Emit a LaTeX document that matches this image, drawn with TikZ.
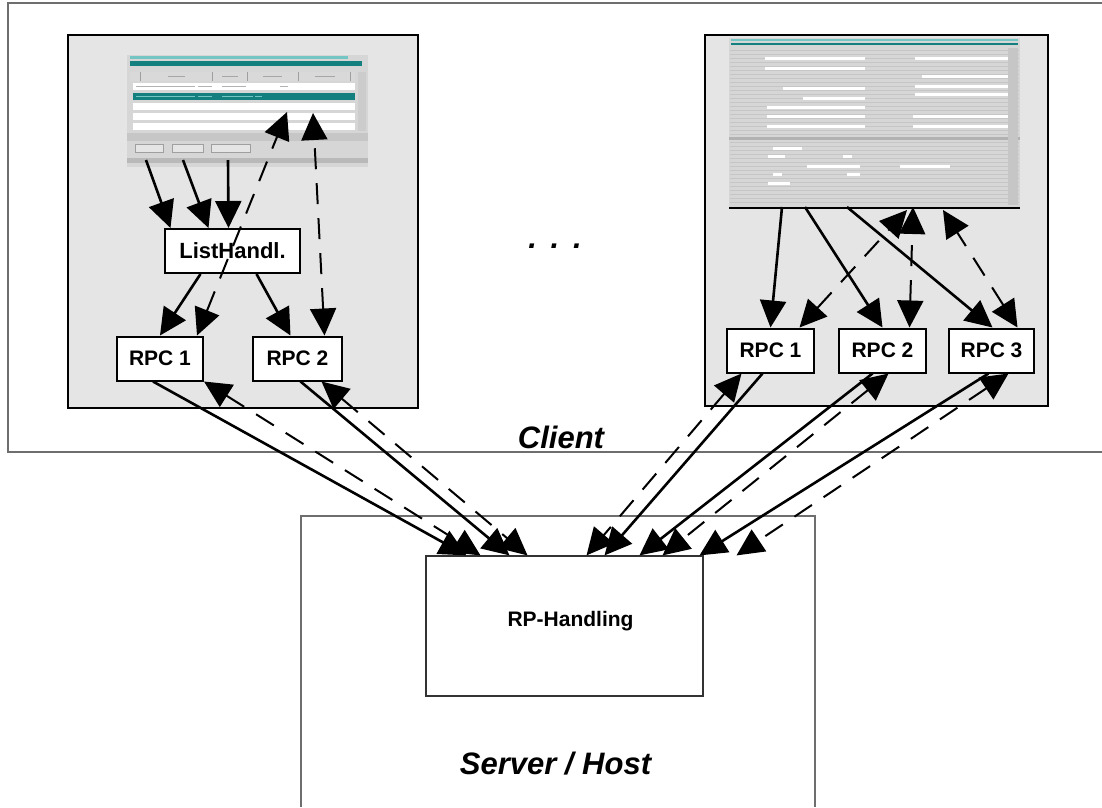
\documentclass[tikz,border=0pt]{standalone}
\usepackage{fontspec}
\setsansfont{Liberation Sans}
\usetikzlibrary{positioning,arrows.meta}

\definecolor{panelgray}{HTML}{E5E5E5}
\definecolor{shotgray}{HTML}{D6D6D6}
\definecolor{tealdark}{HTML}{13807F}
\definecolor{teallight}{HTML}{74C6C4}
\definecolor{framegray}{HTML}{6E6E6E}

\begin{document}
\begin{tikzpicture}[x=1pt,y=-1pt,
    cell/.style = {align=center, text centered, font=\sffamily\bfseries\fontsize{21}{24}\selectfont,
        rectangle, draw=black, line width=2pt, fill=white, inner sep=0pt, minimum height=44pt},
    panel/.style = {draw=black, line width=2.2pt, fill=panelgray},
    frame/.style = {draw=framegray, line width=1.2pt},
    call/.style = {line width=2.6pt, -{Triangle[length=27pt,width=26pt]}},
    back/.style = {line width=2pt, dash pattern=on 21pt off 14pt,
        {Triangle[length=27pt,width=26pt]}-{Triangle[length=27pt,width=26pt]}},
    title/.style = {font=\sffamily\bfseries\itshape\fontsize{31}{34}\selectfont, inner sep=0pt}]
  \useasboundingbox (0,0) rectangle (1102,807);

  % client and server frames
  \draw[frame] (1102,3) -- (8,3) -- (8,452) -- (1102,452);
  \draw[frame] (301,807) -- (301,516) -- (815,516) -- (815,807);
  \draw[panel] (68,35) rectangle (418,408);
  \draw[panel] (705,35) rectangle (1048,406);

  % list window
  \fill[shotgray] (127,55) rectangle (368,167);
  \fill[teallight] (130,56) rectangle (348,59);
  \fill[tealdark] (130,61) rectangle (362,66);
  \fill[gray!30] (130,72) rectangle (355,81);
  \foreach \x in {140,212,247,298,350} \draw[gray!75] (\x,72) -- (\x,81);
  \foreach \y in {83,103,113,123} \fill[white] (133,\y) rectangle (355,\y+7);
  \fill[tealdark] (133,93) rectangle (355,100);
  \foreach \a/\b in {168/185,222/238,263/282,315/335} \draw[gray!70, line width=1pt] (\a,76.5) -- (\b,76.5);
  \foreach \a/\b in {136/195,198/212,222/246,280/288} \draw[gray!60, line width=1pt] (\a,86.5) -- (\b,86.5);
  \foreach \a/\b in {136/195,198/212,222/253,255/262} \draw[teallight, line width=1pt] (\a,96.5) -- (\b,96.5);
  \fill[gray!40] (358,72) rectangle (366,131);
  \fill[gray!45] (127,133) rectangle (368,141);
  \foreach \a/\b in {135/163,172/203,211/250} \draw[gray!75, fill=gray!20] (\a,144) rectangle (\b,152);
  \fill[gray!55] (127,158) rectangle (368,163);

  % form window
  \fill[shotgray] (729,38) rectangle (1020,208);
  \fill[teallight] (731,39) rectangle (1018,41);
  \fill[tealdark] (731,43) rectangle (1018,45);
  \foreach \y in {50,54,...,202} \draw[gray!45, line width=0.6pt] (730,\y) -- (1019,\y);
  \foreach \a/\b/\y in {765/865/57, 765/865/67, 915/1012/57, 922/1012/75, 783/865/87,
      803/865/97, 767/865/106, 767/865/115, 767/865/125, 913/1010/115, 913/1010/125,
      915/1012/85, 915/1012/93, 773/802/147, 768/785/155, 843/852/155, 807/860/165,
      900/950/165, 773/782/173, 847/860/173, 768/790/182}
    \fill[white] (\a,\y) rectangle (\b,\y+3);
  \fill[gray!60] (729,137) rectangle (1020,140);
  \fill[gray!45] (1008,48) rectangle (1018,205);
  \draw[black, line width=1.5pt] (729,208) -- (1020,208);

  % handlers and calls
  \node[cell, minimum width=135pt, font=\sffamily\bfseries\fontsize{22}{24}\selectfont] (listh) at (232.5,251) {ListHandl.};
  \node[cell, minimum width=86pt] (lrpc1) at (160,358.5) {RPC 1};
  \node[cell, minimum width=89pt, right = 48pt of lrpc1] (lrpc2) {RPC 2};
  \node[cell, minimum width=87pt] (rrpc1) at (770.5,350.5) {RPC 1};
  \node[cell, minimum width=87pt, right = 23pt of rrpc1] (rrpc2) {RPC 2};
  \node[cell, minimum width=85pt, right = 21pt of rrpc2] (rrpc3) {RPC 3};
  \node[draw=black!80, line width=1.2pt, minimum width=277pt, minimum height=140pt] (rph) at (564.5,626) {};
  \node[font=\sffamily\bfseries\fontsize{21}{24}\selectfont, inner sep=0pt] (rphtext)
        at ([xshift=6pt,yshift=5pt]rph.center) {RP-Handling};

  \node[title, anchor=base] (dots) at (555,248) {.\ \,.\ \,.};
  \node[title, anchor=base] (client) at (561,448) {Client};
  \node[title, anchor=base] (server) at (555.5,774) {Server / Host};

  \coordinate (lbtn1) at (146,160); \coordinate (lbtn2) at (183,160);
  \coordinate (lbtn3) at (228,160); \coordinate (lrow1) at (287,112);
  \coordinate (lrow2) at (313,113);
  \coordinate (rbtn1) at (782,207); \coordinate (rbtn2) at (805,207);
  \coordinate (rbtn3) at (847,207); \coordinate (rfld1) at (907,210);
  \coordinate (rfld2) at (913,207); \coordinate (rfld3) at (943,210);

  % left window
  \draw[call] (lbtn1) -- ([xshift=-62pt]listh.north);
  \draw[call] (lbtn2) -- ([xshift=-24pt]listh.north);
  \draw[call] (lbtn3) -- ([xshift=-4pt]listh.north);
  \draw[call] ([xshift=-32pt]listh.south) -- (lrpc1.north);
  \draw[call] ([xshift=24pt]listh.south) -- ([xshift=-7pt]lrpc2.north);
  \draw[back] ([xshift=-7pt]lrpc1.north east) -- (lrow1);
  \draw[back] ([xshift=27pt]lrpc2.north) -- (lrow2);

  % right window
  \draw[call] (rbtn1) -- (rrpc1.north);
  \draw[call] (rbtn2) -- (rrpc2.north);
  \draw[call] (rbtn3) -- ([xshift=1pt]rrpc3.north);
  \draw[back] ([xshift=29pt]rrpc1.north) -- (rfld1);
  \draw[back] ([xshift=27pt]rrpc2.north) -- (rfld2);
  \draw[back] ([xshift=26pt]rrpc3.north) -- (rfld3);

  % client to server
  \draw[call] ([xshift=-7pt]lrpc1.south) -- ([xshift=-98pt]rph.north);
  \draw[back] (lrpc1.south east) -- ([xshift=-84pt]rph.north);
  \draw[call] ([xshift=3pt]lrpc2.south) -- ([xshift=-55pt]rph.north);
  \draw[back] ([xshift=24pt]lrpc2.south) -- ([xshift=-37pt]rph.north);
  \draw[call] ([xshift=-8pt]rrpc1.south) -- ([xshift=40pt]rph.north);
  \draw[back] ([xshift=-29pt]rrpc1.south) -- ([xshift=22pt]rph.north);
  \draw[call] ([xshift=-10pt]rrpc2.south) -- ([xshift=75pt]rph.north);
  \draw[back] ([xshift=6pt]rrpc2.south) -- ([xshift=98pt]rph.north);
  \draw[call] ([xshift=-3pt]rrpc3.south) -- ([xshift=135pt]rph.north);
  \draw[back] ([xshift=17pt]rrpc3.south) -- ([xshift=172pt]rph.north);
\end{tikzpicture}
\end{document}
